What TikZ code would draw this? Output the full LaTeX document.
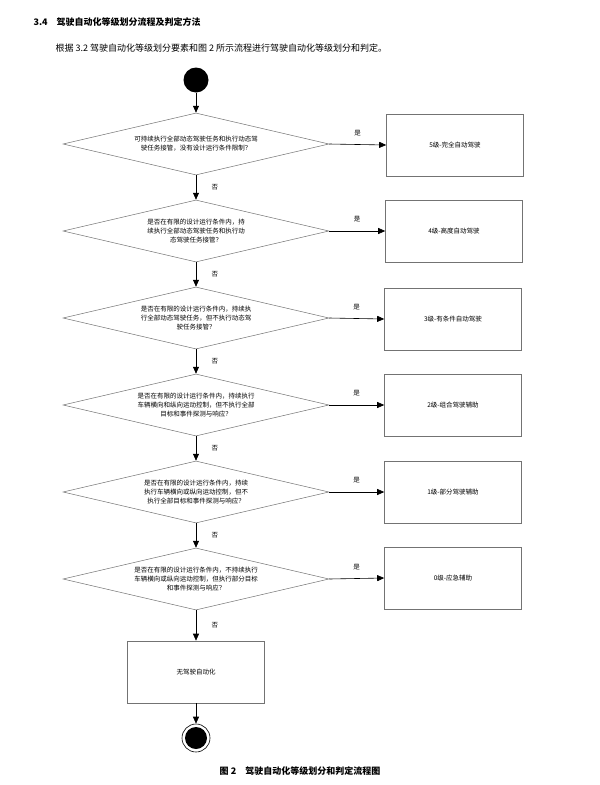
\documentclass[tikz,border=0pt]{standalone}
\usepackage{fontspec}
\setmainfont{Liberation Serif}
\newfontfamily\cjk{Noto Sans CJK SC}
\usetikzlibrary{arrows.meta}
\usetikzlibrary{shapes.geometric}
\usetikzlibrary{positioning}

\tikzset{
  decide/.style={diamond,draw=black!55,line width=0.5pt,minimum width=266pt,minimum height=62pt,inner sep=0pt,
    label={[font=\cjk\fontsize{6.5}{9}\selectfont,align=center]center:#1}},
  level/.style={rectangle,draw=black!55,line width=0.6pt,minimum width=137pt,minimum height=62pt,font=\cjk\fontsize{6.5}{9}\selectfont},
  flow/.style={-{Triangle[length=7pt,width=6pt]},line width=0.6pt},
  tag/.style={font=\cjk\fontsize{6.5}{8}\selectfont}
}

\begin{document}
\begin{tikzpicture}[x=1pt,y=-1pt]
\useasboundingbox[fill=white] (0,0) rectangle (600,785);

\node[font=\cjk\bfseries\fontsize{9}{11}\selectfont,anchor=west] at (30,22) {3.4\quad 驾驶自动化等级划分流程及判定方法};
\node[font=\cjk\fontsize{9}{11}\selectfont,anchor=west] at (52,48) {根据 3.2 驾驶自动化等级划分要素和图 2 所示流程进行驾驶自动化等级划分和判定。};

\node[circle,fill=black,minimum size=25pt,inner sep=0pt] (start) at (196,80) {};

\node[decide={可持续执行全部动态驾驶任务和执行动态驾\\驶任务接管，没有设计运行条件限制？}] (q5) at (196,144) {};
\node[decide={是否在有限的设计运行条件内，持\\续执行全部动态驾驶任务和执行动\\态驾驶任务接管？}] (q4) at (196,231) {};
\node[decide={是否在有限的设计运行条件内，持续执\\行全部动态驾驶任务，但不执行动态驾\\驶任务接管？}] (q3) at (196,318) {};
\node[decide={是否在有限的设计运行条件内，持续执行\\车辆横向和纵向运动控制，但不执行全部\\目标和事件探测与响应？}] (q2) at (196,405) {};
\node[decide={是否在有限的设计运行条件内，持续\\执行车辆横向或纵向运动控制，但不\\执行全部目标和事件探测与响应？}] (q1) at (196,492) {};
\node[decide={是否在有限的设计运行条件内，不持续执行\\车辆横向或纵向运动控制，但执行部分目标\\和事件探测与响应？}] (q0) at (196,579) {};

\node[level] (l5) at (455,145) {5级-完全自动驾驶};
\node[level] (l4) at (454,231) {4级-高度自动驾驶};
\node[level] (l3) at (453,319) {3级-有条件自动驾驶};
\node[level] (l2) at (453,405) {2级-组合驾驶辅助};
\node[level] (l1) at (453,492) {1级-部分驾驶辅助};
\node[level] (l0) at (453,578) {0级-应急辅助};

\node[level] (none) at (196,672) {无驾驶自动化};

\node[circle,draw=black,line width=0.6pt,minimum size=28pt,inner sep=0pt] (stop) at (196,738) {};
\node[circle,fill=black,minimum size=22pt,inner sep=0pt] at (stop) {};

\draw[flow] (start) -- (q5);
\foreach \a/\b in {q5/q4,q4/q3,q3/q2,q2/q1,q1/q0,q0/none}
  \draw[flow] (\a) -- node[tag,right=12pt]{否} (\b);
\draw[flow] (none) -- (stop);

\foreach \q/\l in {q5/l5,q4/l4,q3/l3,q2/l2,q1/l1,q0/l0}
  \draw[flow] (\q.east) -- node[tag,above=5pt]{是} (\l.west);

\node[font=\cjk\bfseries\fontsize{9}{11}\selectfont] at (300,771) {图 2\quad 驾驶自动化等级划分和判定流程图};
\end{tikzpicture}
\end{document}
